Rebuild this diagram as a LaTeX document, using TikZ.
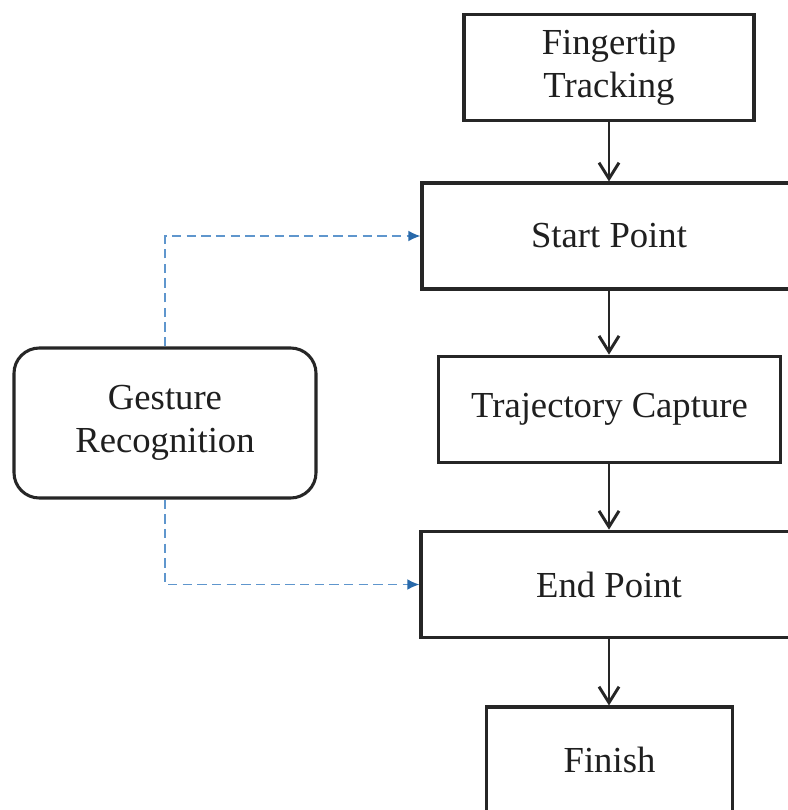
\documentclass[tikz,border=0pt]{standalone}
\usepackage{fontspec}
\setmainfont{Liberation Serif}
\usetikzlibrary{arrows.meta}
\definecolor{dashblue}{RGB}{95,150,205}
\definecolor{tipblue}{RGB}{40,105,170}
\tikzset{
  box/.style={draw=black!85, line width=2.3pt, rectangle, align=center,
    font=\fontsize{27.5}{32.5}\selectfont, inner sep=0pt, minimum height=80pt, text=black!88},
  roundbox/.style={box, rounded corners=19pt},
  flow/.style={draw=black!85, line width=2.2pt, -{Straight Barb[length=12pt,width=15pt,line width=2.2pt]}},
  dashflow/.style={draw=dashblue, line width=1.2pt, dash pattern=on 7pt off 4pt, -{Latex[length=9pt,width=8pt,color=tipblue]}}
}
\begin{document}
\begin{tikzpicture}[x=0.75pt,y=-0.75pt]
\useasboundingbox (0,0) rectangle (788,810);
\clip (0,0) rectangle (788,810);
\fill[white] (0,0) rectangle (788,810);
\node[box, minimum width=217.5pt] (ft) at (609,67.5) {Fingertip\\Tracking};
\node[box, minimum width=280.5pt, minimum height=79.5pt] (sp) at (609,236) {Start Point};
\node[box, minimum width=256pt] (tc) at (609.5,409.5) {Trajectory Capture};
\node[box, minimum width=282pt] (ep) at (609,584.5) {End Point};
\node[box, minimum width=184pt, minimum height=79.5pt] (fi) at (609.5,760) {Finish};
\node[roundbox, minimum width=226.5pt, minimum height=112.5pt] (gr) at (165,423) {Gesture\\Recognition};
\draw[flow] (ft.south) -- (sp.north);
\draw[flow] (sp.south) -- (tc.north -| sp.south);
\draw[flow] (tc.south -| sp.south) -- (ep.north);
\draw[flow] (ep.south) -- (fi.north -| ep.south);
\draw[dashflow] (gr.north) |- (sp.west);
\draw[dashflow] (gr.south) |- (ep.west);
\end{tikzpicture}
\end{document}
